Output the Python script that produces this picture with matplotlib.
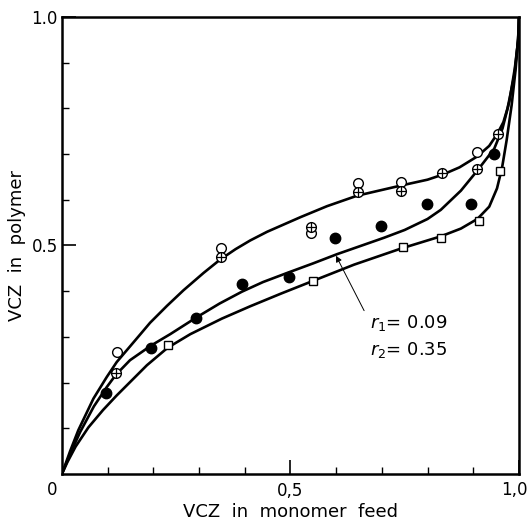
import matplotlib
matplotlib.use("Agg")
import matplotlib.pyplot as plt
import numpy as np

# measured points (VCZ in feed, VCZ in polymer)
open_x = [0.120, 0.349, 0.544, 0.648, 0.741, 0.909]
open_y = [0.268, 0.494, 0.527, 0.637, 0.640, 0.704]
cross_x = [0.118, 0.349, 0.544, 0.648, 0.741, 0.831, 0.909, 0.955]
cross_y = [0.220, 0.475, 0.541, 0.616, 0.620, 0.658, 0.667, 0.744]
fill_x = [0.096, 0.195, 0.293, 0.394, 0.496, 0.597, 0.699, 0.798, 0.895, 0.946]
fill_y = [0.177, 0.275, 0.342, 0.415, 0.432, 0.516, 0.543, 0.590, 0.590, 0.701]
sq_x = [0.232, 0.549, 0.746, 0.829, 0.913, 0.959]
sq_y = [0.282, 0.423, 0.497, 0.517, 0.554, 0.663]

# curves
top_x = [0, 0.018, 0.036, 0.069, 0.098, 0.120, 0.171, 0.193, 0.230, 0.266, 0.310, 0.346, 0.380, 0.412,
         0.449, 0.522, 0.580, 0.646, 0.741, 0.800, 0.833, 0.870, 0.909, 0.935, 0.953, 0.966, 0.975,
         0.990, 0.998, 1.0]
top_y = [0, 0.050, 0.096, 0.165, 0.212, 0.245, 0.305, 0.331, 0.368, 0.402, 0.440, 0.469, 0.492, 0.511,
         0.530, 0.562, 0.586, 0.609, 0.631, 0.644, 0.655, 0.671, 0.695, 0.718, 0.745, 0.770, 0.800,
         0.873, 0.947, 1.0]
mid_x = [0, 0.020, 0.040, 0.070, 0.098, 0.118, 0.149, 0.195, 0.237, 0.295, 0.345, 0.394, 0.440, 0.493,
         0.550, 0.602, 0.705, 0.750, 0.800, 0.829, 0.873, 0.909, 0.946, 0.964, 0.979, 0.991, 0.999, 1.0]
mid_y = [0, 0.048, 0.092, 0.148, 0.190, 0.217, 0.249, 0.281, 0.306, 0.343, 0.373, 0.399, 0.420, 0.440,
         0.461, 0.481, 0.517, 0.534, 0.558, 0.578, 0.620, 0.664, 0.712, 0.756, 0.815, 0.888, 0.955, 1.0]
bot_x = [0, 0.012, 0.030, 0.058, 0.090, 0.120, 0.186, 0.231, 0.281, 0.350, 0.412, 0.480, 0.548, 0.639,
         0.741, 0.829, 0.873, 0.909, 0.935, 0.952, 0.963, 0.973, 0.984, 0.993, 0.999, 1.0]
bot_y = [0, 0.026, 0.060, 0.102, 0.140, 0.172, 0.238, 0.276, 0.306, 0.340, 0.367, 0.395, 0.422, 0.458,
         0.493, 0.520, 0.537, 0.558, 0.585, 0.625, 0.670, 0.730, 0.807, 0.888, 0.965, 1.0]

fig = plt.figure(figsize=(5.29, 5.24), dpi=100)
ax = fig.add_axes([0.117, 0.0954, 0.864, 0.8722])

for cx, cy in [(top_x, top_y), (mid_x, mid_y), (bot_x, bot_y)]:
    ax.plot(cx, cy, color='black', lw=1.9, solid_joinstyle='round', solid_capstyle='round', zorder=2)

ms = 7
ax.plot(open_x, open_y, 'o', ms=ms, mfc='white', mec='black', mew=1.0, zorder=3)
ax.plot(cross_x, cross_y, 'o', ms=ms, mfc='white', mec='black', mew=1.0, zorder=3)
ax.plot(cross_x, cross_y, '+', ms=ms, mec='black', mew=0.9, zorder=4)
ax.plot(fill_x, fill_y, 'o', ms=ms + 0.5, mfc='black', mec='black', zorder=3)
ax.plot(sq_x, sq_y, 's', ms=ms - 1, mfc='white', mec='black', mew=1.0, zorder=3)

ax.annotate('', xy=(0.597, 0.483), xytext=(0.664, 0.352),
            arrowprops=dict(arrowstyle='-|>', color='black', lw=0.7, mutation_scale=9))
ax.text(0.675, 0.331, r'$r_1$= 0.09', fontsize=13, va='center', ha='left')
ax.text(0.675, 0.271, r'$r_2$= 0.35', fontsize=13, va='center', ha='left')

ax.set_xlim(0, 1)
ax.set_ylim(0, 1)
ax.set_xticks([0.5, 1.0])
ax.set_xticklabels(['0,5', ''])
ax.set_yticks([0.5, 1.0])
ax.set_yticklabels(['0.5', '1.0'])
ax.set_xticks(np.arange(0.1, 1.0, 0.1), minor=True)
ax.set_yticks(np.arange(0.1, 1.0, 0.1), minor=True)
ax.tick_params(which='major', direction='in', length=10, width=1.2, labelsize=12, pad=6)
ax.tick_params(which='minor', direction='in', length=5, width=1.0)
ax.tick_params(axis='y', pad=3)
ax.text(-0.022, -0.035, '0', transform=ax.transAxes, fontsize=12, ha='center', va='center')
ax.text(0.99, -0.035, '1,0', transform=ax.transAxes, fontsize=12, ha='center', va='center')

for s in ax.spines.values():
    s.set_linewidth(1.8)

ax.set_xlabel('VCZ  in  monomer  feed', fontsize=13, labelpad=2)
ax.set_ylabel('VCZ  in  polymer', fontsize=13, labelpad=4)

fig.savefig('out.png', dpi=100)
